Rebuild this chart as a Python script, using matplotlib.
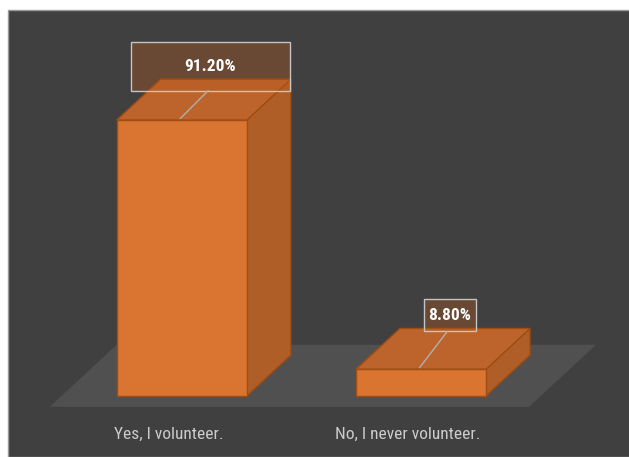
import matplotlib
matplotlib.use('Agg')
import matplotlib.pyplot as plt
from matplotlib.patches import Polygon, Rectangle
from matplotlib import font_manager

categories = ['Yes, I volunteer.', 'No, I never volunteer.']
values = [91.2, 8.8]
value_labels = ['91.20%', '8.80%']

# pick a narrow font if one is around (Calibri look)
names = set(f.name for f in font_manager.fontManager.ttflist)
font = 'DejaVu Sans'
for cand in ['Liberation Sans Narrow', 'Roboto Condensed', 'Open Sans Condensed', 'Noto Sans']:
    if cand in names:
        font = cand
        break
plt.rcParams['font.family'] = [font, 'DejaVu Sans']

front = '#D97530'
top = '#BC642B'
side = '#B05E28'
edge = '#A04C12'

fig = plt.figure(figsize=(6.29, 4.57), dpi=100, facecolor='white')
bg = fig.add_axes([0, 0, 1, 1])
bg.set_xlim(0, 1)
bg.set_ylim(0, 1)
bg.axis('off')
bg.add_patch(Rectangle((8 / 629, 0), 1, 1 - 10 / 457, facecolor='#404040',
                       edgecolor='#9a9a9a', lw=1))

ax = fig.add_axes([0, 0, 1, 1])
ax.set_xlim(-0.76, 1.87)
ax.set_ylim(-20.2, 130.9)
ax.axis('off')

w = 0.544            # front face width
ddx, ddy = 0.184, 13.5   # depth offset of a bar

# floor
fx0, fx1, fy = -0.552, 1.452, -3.6
fdx, fdy = 0.28, 20.5
ax.add_patch(Polygon([(fx0, fy), (fx1, fy), (fx1 + fdx, fy + fdy), (fx0 + fdx, fy + fdy)],
                     closed=True, facecolor='#505050', edgecolor='none'))

for i, v in enumerate(values):
    x0, x1 = i - w / 2, i + w / 2
    ax.add_patch(Polygon([(x1, 0), (x1 + ddx, ddy), (x1 + ddx, v + ddy), (x1, v)],
                         closed=True, facecolor=side, edgecolor=edge, lw=1))
    ax.add_patch(Polygon([(x0, v), (x1, v), (x1 + ddx, v + ddy), (x0 + ddx, v + ddy)],
                         closed=True, facecolor=top, edgecolor=edge, lw=1))
    ax.add_patch(Rectangle((x0, 0), w, v, facecolor=front, edgecolor=edge, lw=1))
    ax.text(i - 0.054, -12.6, categories[i], ha='center', va='center',
            color='#cccccc', fontsize=12.5)

# data labels
box_sizes = [(0.665, 16.2), (0.218, 10.6)]
for i, v in enumerate(values):
    cx, cy = i + 0.12, v + 17.8
    bw, bh = box_sizes[i]
    ax.plot([cx - 0.01, i - 0.005], [cy - bh / 2, v + 0.6], color='#b0b0b0', lw=1)
    ax.add_patch(Rectangle((cx - bw / 2, cy - bh / 2), bw, bh, facecolor='#B85A1E',
                           alpha=0.35, edgecolor='none'))
    ax.add_patch(Rectangle((cx - bw / 2, cy - bh / 2), bw, bh, facecolor='none',
                           edgecolor='#c4c4c4', lw=1))
    ax.text(cx, cy, value_labels[i], ha='center', va='center', color='white',
            fontsize=12.5, fontweight='bold')

plt.savefig('out.png', dpi=100, facecolor='white')
